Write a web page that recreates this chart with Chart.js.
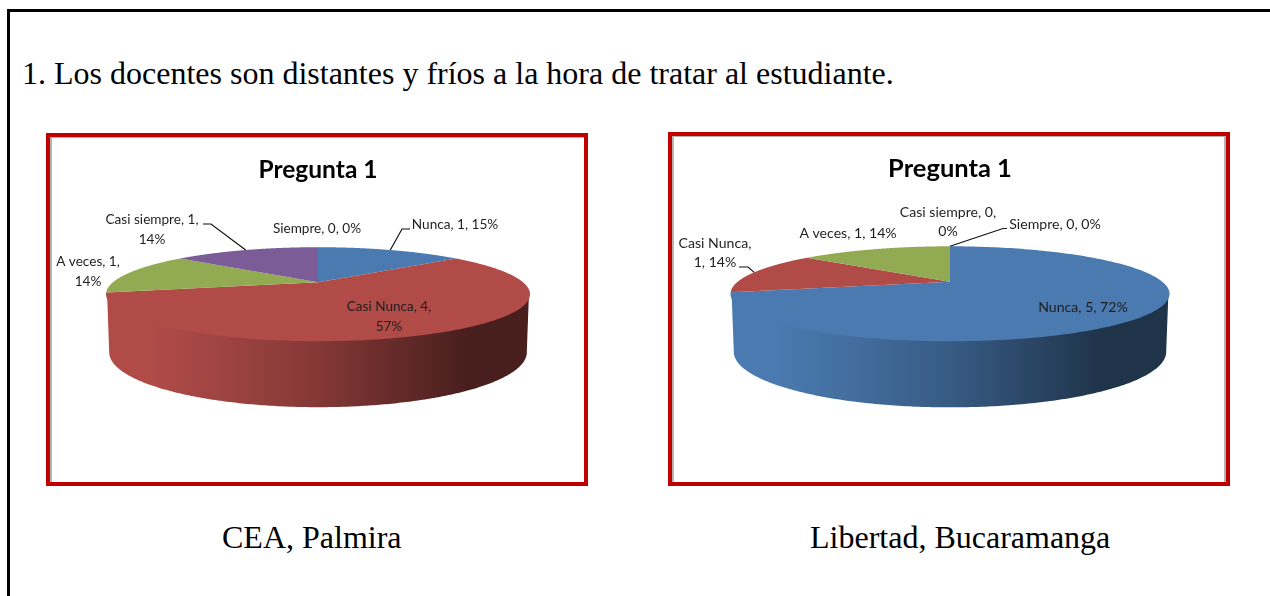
<!DOCTYPE html>
<html lang="es">
<head>
<meta charset="utf-8">
<title>Pregunta 1</title>
<script src="https://cdn.jsdelivr.net/npm/chart.js@4/dist/chart.umd.min.js"></script>
<style>
html,body{margin:0;padding:0;background:#fff;width:1270px;height:596px;overflow:hidden}
.t{position:absolute;font-family:"Liberation Serif",serif;color:#000;white-space:nowrap;line-height:1}
#page{position:absolute;left:7px;top:9px;width:1300px;height:640px;border:3px solid #000;box-sizing:content-box}
.frame{position:absolute;box-sizing:border-box;border:4px solid #C00000;border-bottom-width:4px}
.inner{position:absolute;left:0;top:0;right:0;bottom:0;border-left:2px solid #b4b4b4;border-top:1px solid #b4b4b4}
canvas{position:absolute}
</style>
</head>
<body>
<div id="page"></div>
<div class="t" style="left:22px;top:57px;font-size:32px" id="head">1. Los docentes son distantes y fríos a la hora de tratar al estudiante.</div>
<div class="frame" style="left:46px;top:133px;width:542px;height:353px"><div class="inner"></div></div>
<div class="frame" style="left:668px;top:132px;width:562px;height:354px"><div class="inner" style="border-right:2px solid #b4b4b4"></div></div>
<canvas id="chartA" style="left:52px;top:137px"></canvas>
<canvas id="chartB" style="left:674px;top:136px"></canvas>
<div class="t" style="left:222px;top:521px;font-size:32px">CEA, Palmira</div>
<div class="t" style="left:810px;top:521px;font-size:32px">Libertad, Bucaramanga</div>
<script>
const categories = ["Nunca", "Casi Nunca", "A veces", "Casi siempre", "Siempre"];
const valuesA = [1, 4, 1, 1, 0];
const valuesB = [5, 1, 1, 0, 0];
const percentsA = [15, 57, 14, 14, 0];
const percentsB = [72, 14, 14, 0, 0];
const colors = ["#4A7AB0", "#B04B48", "#92AB52", "#7B5C96", "#4BACC6"];
const chartTitle = "Pregunta 1";

function shade(hex, f) {
  const n = parseInt(hex.slice(1), 16);
  return `rgb(${((n >> 16) & 255) * f | 0},${((n >> 8) & 255) * f | 0},${(n & 255) * f | 0})`;
}

const pie3d = {
  id: "pie3d",
  beforeDatasetDraw(chart) {
    const o = chart.options.plugins.pie3d, ctx = chart.ctx;
    const arcs = chart.getDatasetMeta(0).data;
    const k = o.apexShift, sq = Math.sqrt(1 - k * k);
    const rim = a => {
      const u = Math.cos(a), v = -Math.sin(a), d = 1 + k * v;
      return [u * sq / d, (v + k) / d];
    };
    const P = arcs[0].getProps(["x", "y", "outerRadius"], true);
    const cx = P.x, cy = P.y, rx = P.outerRadius, ry = rx * o.tilt;
    const bx = rx * o.bottomScale, by = cy + o.depth, bry = ry * o.bottomTilt;
    chart.$rim = (a) => { const [u, w] = rim(a); return [cx + rx * u, cy - ry * w]; };
    ctx.save();
    arcs.forEach(arc => {
      const p = arc.getProps(["startAngle", "endAngle"], true);
      if (p.endAngle - p.startAngle < 1e-4) return;
      const pts = [], n = 360;
      for (let i = 0; i <= n; i++) {
        const q = rim(p.startAngle + (p.endAngle - p.startAngle) * i / n);
        if (q[1] <= 0.01) pts.push(q);
      }
      if (pts.length < 2) return;
      const base = arc.options.backgroundColor;
      const g = ctx.createLinearGradient(cx - rx, 0, cx + rx, 0);
      [[0, 1], [.1, 1], [.25, .92], [.5, .75], [.85, .42], [1, .42]].forEach(s => g.addColorStop(s[0], shade(base, s[1])));
      ctx.beginPath();
      pts.forEach((q, i) => { const X = cx + (rx - 1) * q[0], Y = cy - ry * q[1] - 2; i ? ctx.lineTo(X, Y) : ctx.moveTo(X, Y); });
      for (let i = pts.length - 1; i >= 0; i--) ctx.lineTo(cx + bx * pts[i][0], by - bry * pts[i][1]);
      ctx.closePath();
      ctx.fillStyle = g;
      ctx.fill();
    });
    arcs.forEach(arc => {
      const p = arc.getProps(["startAngle", "endAngle"], true);
      if (p.endAngle - p.startAngle < 1e-4) return;
      ctx.beginPath();
      ctx.moveTo(cx, cy - ry * k);
      const n = 200;
      for (let i = 0; i <= n; i++) {
        const q = rim(p.startAngle + (p.endAngle - p.startAngle) * i / n);
        ctx.lineTo(cx + rx * q[0], cy - ry * q[1]);
      }
      ctx.closePath();
      ctx.fillStyle = arc.options.backgroundColor;
      ctx.fill();
    });
    ctx.restore();
    return false;
  },
  afterDraw(chart) {
    const o = chart.options.plugins.pie3d, ctx = chart.ctx;
    const arcs = chart.getDatasetMeta(0).data;
    const vals = chart.data.datasets[0].data, pcts = o.percents;
    ctx.save();
    ctx.translate(-o.ox, -o.oy);
    ctx.textAlign = "center";
    ctx.textBaseline = "middle";
    ctx.font = o.labelFont;
    ctx.fillStyle = "#1f1f1f";
    o.labels.forEach(l => {
      const parts = [chart.data.labels[l.i], vals[l.i], pcts[l.i] + "%"];
      const lines = [parts.slice(0, l.brk).join(", ") + (l.brk < 3 ? "," : ""), parts.slice(l.brk).join(", ")].filter(Boolean);
      lines.forEach((s, j) => ctx.fillText(s, l.x, l.y + j * o.lineGap));
      if (l.elbow) {
        const p = arcs[l.i].getProps(["startAngle", "endAngle"], true);
        const e = chart.$rim((p.startAngle + p.endAngle) / 2);
        ctx.beginPath();
        ctx.moveTo(e[0] + o.ox, e[1] + o.oy);
        l.elbow.forEach(q => ctx.lineTo(q[0], q[1]));
        ctx.strokeStyle = "#111";
        ctx.lineWidth = 1.2;
        ctx.stroke();
      }
    });
    ctx.restore();
  }
};

function makeChart(id, w, h, values, percents, cfg) {
  const el = document.getElementById(id);
  el.width = w; el.height = h; el.style.width = w + "px"; el.style.height = h + "px";
  return new Chart(el, {
    type: "pie",
    data: { labels: categories, datasets: [{ data: values, backgroundColor: colors, borderWidth: 0, radius: cfg.radius }] },
    plugins: [pie3d],
    options: {
      responsive: false, animation: false,
      layout: { padding: { bottom: cfg.padBottom, left: cfg.padLeft } },
      plugins: {
        legend: { display: false }, tooltip: { enabled: false },
        title: { display: true, text: chartTitle, color: "#000", padding: { top: cfg.titleTop, bottom: 0 },
                 font: { family: "Lato", weight: "bold", size: cfg.titleSize } },
        pie3d: { percents, labels: cfg.labels, ox: cfg.ox, oy: cfg.oy, tilt: cfg.tilt, apexShift: .255,
                 depth: 58, bottomScale: .985, bottomTilt: 1.17, labelFont: cfg.labelFont, lineGap: 19.5 }
      }
    }
  });
}

makeChart("chartA", 531, 344, valuesA, percentsA, {
  radius: 212, padBottom: 77, padLeft: 1, titleTop: 18, titleSize: 24.5, tilt: .2217, ox: 52, oy: 137, labelFont: "13.6px Lato",
  labels: [
    { i: 0, x: 455, y: 225, brk: 3, elbow: [[402, 229], [410, 229]] },
    { i: 1, x: 389, y: 307, brk: 2 },
    { i: 2, x: 88, y: 262, brk: 2 },
    { i: 3, x: 152, y: 220, brk: 2, elbow: [[211, 224], [203, 224]] },
    { i: 4, x: 317, y: 229, brk: 3 }
  ]
});
makeChart("chartB", 552, 345, valuesB, percentsB, {
  radius: 219.5, padBottom: 77, padLeft: 0, titleTop: 17, titleSize: 25.5, tilt: .2164, ox: 674, oy: 136, labelFont: "14.1px Lato",
  labels: [
    { i: 0, x: 1083, y: 307, brk: 3 },
    { i: 1, x: 715, y: 243, brk: 1, elbow: [[748, 267], [739, 267]] },
    { i: 2, x: 848, y: 233, brk: 3 },
    { i: 3, x: 948, y: 212, brk: 2 },
    { i: 4, x: 1055, y: 224, brk: 3, elbow: [[1003, 228.5], [1007, 228.5]] }
  ]
});
</script>
</body>
</html>
